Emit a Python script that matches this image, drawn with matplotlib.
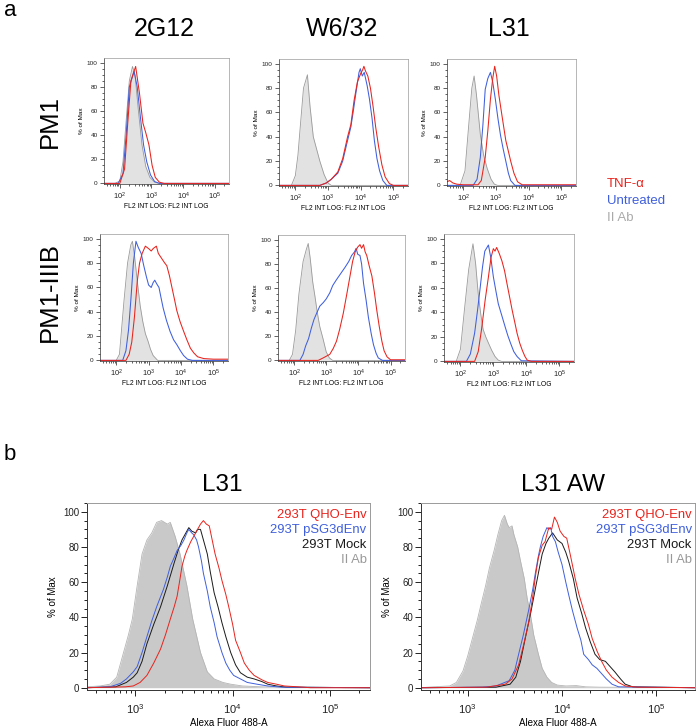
import numpy as np
import matplotlib
matplotlib.use('Agg')
import matplotlib.pyplot as plt
from matplotlib.ticker import LogLocator, MultipleLocator, NullFormatter

plt.rcParams['font.family'] = ['Liberation Sans', 'DejaVu Sans']
plt.rcParams['mathtext.fontset'] = 'custom'
plt.rcParams['mathtext.rm'] = 'Liberation Sans'
plt.rcParams['mathtext.it'] = 'Liberation Sans:italic'

# histogram points: (log10 intensity, % of max)

### panel a, PM1 row ###
pm1_2g12_ab = [(1.5, 0), (1.85, 0), (2.0, 2), (2.1, 18), (2.2, 52), (2.3, 85), (2.4, 97), (2.48, 90),
               (2.58, 62), (2.7, 32), (2.82, 14), (2.95, 5), (3.1, 1), (3.25, 0), (5.45, 0)]
pm1_2g12_unt = [(1.5, 0), (1.95, 0), (2.1, 8), (2.2, 40), (2.3, 80), (2.45, 93), (2.55, 80), (2.65, 55),
                (2.75, 32), (2.85, 18), (2.97, 7), (3.1, 1.5), (3.25, 0), (5.45, 0)]
pm1_2g12_tnf = [(1.5, 0), (2.0, 0), (2.15, 12), (2.25, 50), (2.35, 85), (2.5, 97), (2.62, 75), (2.73, 50),
                (2.82, 42), (2.92, 32), (3.02, 15), (3.12, 5), (3.25, 1), (3.4, 0), (5.45, 0)]

pm1_w632_ab = [(1.5, 0), (1.88, 0), (2.0, 8), (2.08, 25), (2.15, 48), (2.25, 80), (2.37, 91), (2.45, 65),
               (2.55, 40), (2.65, 30), (2.75, 20), (2.88, 9), (3.0, 2), (3.1, 0), (5.45, 0)]
pm1_w632_unt = [(1.5, 0), (2.75, 0), (2.95, 2), (3.1, 5), (3.3, 10), (3.45, 20), (3.6, 37), (3.7, 48),
                (3.78, 62), (3.86, 77), (3.95, 93), (3.99, 96), (4.05, 90), (4.11, 93), (4.2, 82),
                (4.27, 71), (4.35, 55), (4.42, 37), (4.5, 22), (4.58, 12), (4.68, 4), (4.8, 0), (5.45, 0)]
pm1_w632_tnf = [(1.5, 0), (2.75, 0), (2.95, 2), (3.1, 5), (3.3, 11), (3.45, 22), (3.6, 40), (3.7, 50),
                (3.8, 70), (3.9, 85), (4.0, 92), (4.06, 95), (4.1, 98), (4.15, 94), (4.22, 90), (4.3, 80),
                (4.38, 65), (4.46, 48), (4.55, 32), (4.65, 17), (4.75, 7), (4.88, 1.5), (5.0, 0), (5.45, 0)]

pm1_l31_ab = [(1.5, 0), (1.9, 0), (2.05, 12), (2.16, 48), (2.26, 80), (2.33, 90), (2.4, 75), (2.52, 42),
              (2.62, 25), (2.73, 14), (2.85, 5), (2.95, 1), (3.05, 0), (5.45, 0)]
pm1_l31_unt = [(1.5, 0), (2.3, 0), (2.42, 5), (2.52, 23), (2.6, 50), (2.67, 79), (2.75, 88), (2.83, 93),
               (2.9, 85), (2.98, 71), (3.06, 55), (3.14, 41), (3.22, 30), (3.3, 20), (3.38, 10),
               (3.45, 4), (3.58, 0), (5.45, 0)]
pm1_l31_tnf = [(1.5, 3), (1.58, 4), (1.68, 2), (1.8, 1), (2.0, 0.5), (2.45, 0.5), (2.55, 4), (2.67, 23),
               (2.75, 45), (2.83, 71), (2.9, 88), (2.96, 98), (3.02, 90), (3.09, 74), (3.18, 58),
               (3.3, 37), (3.38, 28), (3.45, 20), (3.55, 10), (3.66, 3), (3.8, 0.5), (5.45, 0.5)]

### panel a, PM1-IIIB row ###
iiib_2g12_ab = [(1.5, 0), (2.0, 0), (2.1, 5), (2.24, 49), (2.35, 80), (2.45, 95), (2.5, 98), (2.57, 85),
                (2.66, 63), (2.74, 45), (2.82, 32), (2.9, 22), (2.98, 16), (3.06, 9), (3.14, 4),
                (3.28, 0), (5.45, 0)]
iiib_2g12_unt = [(1.5, 0), (2.2, 0), (2.3, 8), (2.38, 25), (2.45, 49), (2.53, 80), (2.61, 98), (2.68, 93),
                 (2.77, 88), (2.85, 78), (2.93, 69), (3.0, 62), (3.08, 60), (3.14, 64), (3.19, 66),
                 (3.25, 63), (3.32, 60), (3.38, 52), (3.45, 43), (3.55, 33), (3.66, 24), (3.77, 17),
                 (3.87, 13), (3.98, 8), (4.08, 4), (4.2, 1), (4.35, 0), (5.45, 0)]
iiib_2g12_tnf = [(1.5, 0), (2.3, 0), (2.4, 5), (2.48, 15), (2.56, 35), (2.65, 65), (2.72, 80), (2.8, 88),
                 (2.9, 94), (3.0, 92), (3.08, 90), (3.14, 92), (3.24, 94), (3.3, 88), (3.4, 84),
                 (3.5, 80), (3.56, 78), (3.64, 70), (3.72, 60), (3.8, 50), (3.87, 41), (3.97, 32),
                 (4.08, 24), (4.18, 17), (4.29, 10), (4.4, 6), (4.51, 3), (4.7, 1.5), (5.0, 1), (5.45, 1)]

iiib_w632_ab = [(1.5, 0), (1.85, 0), (1.95, 5), (2.05, 25), (2.15, 55), (2.28, 82), (2.38, 92), (2.44, 97),
                (2.5, 85), (2.58, 65), (2.65, 53), (2.72, 40), (2.8, 28), (2.9, 18), (3.0, 7), (3.1, 2),
                (3.2, 0), (5.45, 0)]
iiib_w632_unt = [(1.5, 0), (2.18, 0), (2.28, 5), (2.36, 12), (2.45, 18), (2.54, 27), (2.62, 34), (2.7, 39),
                 (2.8, 45), (2.91, 48), (3.0, 51), (3.11, 56), (3.2, 62), (3.32, 67), (3.45, 72),
                 (3.58, 77), (3.7, 82), (3.79, 87), (3.88, 90), (3.93, 93), (3.98, 88), (4.05, 87),
                 (4.1, 80), (4.16, 64), (4.24, 50), (4.31, 36), (4.4, 22), (4.47, 13), (4.55, 6),
                 (4.62, 2), (4.75, 0), (5.45, 0)]
iiib_w632_tnf = [(1.5, 0), (2.75, 0), (2.9, 2), (3.11, 5), (3.22, 10), (3.32, 16), (3.42, 26), (3.53, 39),
                 (3.64, 55), (3.74, 70), (3.82, 82), (3.9, 90), (3.98, 94), (4.05, 96), (4.1, 93),
                 (4.16, 96), (4.21, 90), (4.26, 87), (4.34, 78), (4.42, 70), (4.5, 56), (4.57, 42),
                 (4.65, 28), (4.73, 16), (4.8, 8), (4.89, 3), (5.0, 0.5), (5.45, 0.5)]

iiib_l31_ab = [(1.5, 0), (1.87, 0), (2.0, 10), (2.12, 42), (2.25, 75), (2.38, 96), (2.46, 80), (2.54, 55),
               (2.62, 38), (2.69, 26), (2.77, 20), (2.85, 15), (2.95, 9), (3.05, 4), (3.15, 1),
               (3.25, 0), (5.45, 0)]
iiib_l31_unt = [(1.5, 0), (2.18, 0), (2.3, 6), (2.43, 23), (2.52, 42), (2.59, 58), (2.67, 77), (2.74, 90),
                (2.85, 95), (2.92, 85), (3.0, 69), (3.08, 57), (3.15, 47), (3.25, 38), (3.36, 28),
                (3.44, 21), (3.52, 15), (3.62, 8), (3.72, 4), (3.85, 0.5), (5.45, 0)]
iiib_l31_tnf = [(1.5, 0), (2.43, 0), (2.54, 8), (2.64, 26), (2.75, 50), (2.85, 69), (2.93, 85), (3.0, 92),
                (3.05, 90), (3.1, 93), (3.18, 88), (3.26, 82), (3.34, 74), (3.41, 64), (3.49, 53),
                (3.57, 42), (3.65, 32), (3.72, 23), (3.8, 15), (3.88, 9), (3.96, 4), (4.03, 1),
                (4.15, 0), (5.45, 0)]

### panel b ###
l31_ab = [(2.5, 0.5), (2.64, 1), (2.74, 2), (2.81, 6), (2.88, 20), (2.93, 30), (2.97, 39), (3.02, 58),
          (3.07, 76), (3.12, 84), (3.17, 88), (3.22, 94), (3.27, 95), (3.33, 93), (3.36, 94), (3.41, 86),
          (3.46, 76), (3.53, 58), (3.59, 39), (3.67, 20), (3.74, 9), (3.81, 5), (3.9, 3), (3.98, 2),
          (4.1, 1), (4.3, 0.5), (5.42, 0)]
l31_mock = [(2.5, 0), (2.8, 0.5), (2.91, 3), (2.98, 6), (3.02, 8.5), (3.07, 15), (3.12, 25), (3.19, 36),
            (3.26, 46), (3.33, 58), (3.4, 71), (3.44, 78), (3.48, 84), (3.52, 88), (3.55, 91), (3.58, 89),
            (3.62, 88), (3.64, 90), (3.67, 90), (3.7, 84), (3.74, 76), (3.77, 66), (3.81, 54), (3.85, 46),
            (3.89, 37), (3.93, 29), (3.98, 20), (4.03, 13), (4.08, 8.5), (4.15, 6), (4.22, 5), (4.3, 3.5),
            (4.36, 2), (4.45, 1), (4.55, 0.3), (5.42, 0)]
l31_psg = [(2.5, 0), (2.74, 0.5), (2.85, 2.5), (2.91, 5), (2.98, 9), (3.02, 12), (3.07, 20), (3.12, 29),
           (3.17, 38), (3.22, 46), (3.29, 56), (3.33, 63), (3.36, 69), (3.4, 74), (3.43, 78), (3.47, 81),
           (3.5, 84), (3.53, 88), (3.55, 90), (3.58, 88), (3.6, 87), (3.63, 84), (3.65, 80), (3.68, 72),
           (3.7, 65), (3.74, 55), (3.77, 46), (3.81, 37), (3.84, 29), (3.89, 20), (3.93, 14), (3.97, 10),
           (4.01, 7), (4.08, 5), (4.15, 3), (4.25, 2), (4.36, 1), (4.5, 0.3), (5.42, 0)]
l31_qho = [(2.5, 0), (2.9, 0.5), (2.98, 1), (3.05, 3), (3.12, 7), (3.19, 14), (3.26, 22), (3.31, 30),
           (3.36, 39), (3.4, 46), (3.43, 52), (3.46, 62), (3.48, 69), (3.51, 75), (3.53, 78), (3.57, 83),
           (3.6, 86), (3.63, 89), (3.67, 93), (3.7, 95), (3.73, 93), (3.76, 92), (3.79, 84), (3.82, 76),
           (3.86, 68), (3.89, 61), (3.93, 53), (3.96, 46), (4.0, 36), (4.03, 27), (4.08, 20), (4.12, 14),
           (4.17, 10), (4.22, 7), (4.3, 4.5), (4.36, 3), (4.45, 2), (4.53, 1), (4.67, 0.5), (4.8, 0),
           (5.42, 0)]

l31aw_ab = [(2.5, 0), (2.63, 0.5), (2.81, 1), (2.88, 3), (2.95, 9.5), (3.0, 18), (3.05, 28), (3.1, 38),
            (3.14, 47), (3.19, 58), (3.23, 68), (3.28, 78), (3.32, 87), (3.36, 95), (3.39, 98), (3.42, 93),
            (3.44, 91), (3.47, 92), (3.49, 87), (3.53, 80), (3.56, 72), (3.6, 62), (3.63, 51), (3.67, 40),
            (3.7, 30), (3.75, 19), (3.79, 11), (3.84, 6), (3.89, 3), (3.95, 1.5), (4.04, 1), (4.15, 1.2),
            (4.25, 0.5), (4.4, 0.3), (5.42, 0)]
l31aw_mock = [(2.5, 0), (3.3, 0.3), (3.45, 2), (3.51, 6), (3.56, 15), (3.61, 28), (3.67, 43), (3.72, 57),
              (3.76, 68), (3.79, 76), (3.83, 82), (3.86, 85), (3.9, 88), (3.95, 84), (4.0, 82), (4.04, 77),
              (4.07, 72), (4.12, 62), (4.16, 51), (4.21, 42), (4.25, 34), (4.3, 26), (4.35, 19), (4.4, 16),
              (4.46, 15), (4.51, 12), (4.56, 9), (4.62, 5), (4.67, 2), (4.75, 0.5), (5.42, 0)]
l31aw_psg = [(2.5, 0), (3.16, 0.3), (3.3, 1), (3.44, 4), (3.5, 10), (3.54, 19), (3.59, 30), (3.65, 45),
             (3.69, 56), (3.72, 66), (3.75, 75), (3.77, 80), (3.8, 86), (3.84, 91), (3.86, 90), (3.88, 91),
             (3.9, 86), (3.93, 83), (3.96, 77), (4.0, 70), (4.04, 60), (4.07, 53), (4.11, 44), (4.16, 34),
             (4.2, 27), (4.23, 19), (4.28, 16), (4.32, 13), (4.37, 11), (4.42, 8), (4.47, 5), (4.53, 2),
             (4.6, 0.5), (5.42, 0)]
l31aw_qho = [(2.5, 0), (3.2, 0.3), (3.4, 2), (3.47, 5), (3.54, 13), (3.6, 26), (3.65, 38), (3.69, 52),
             (3.72, 64), (3.75, 74), (3.79, 81), (3.82, 83), (3.86, 91), (3.89, 90), (3.92, 97), (3.95, 94),
             (3.98, 89), (4.02, 86), (4.05, 85), (4.09, 75), (4.14, 62), (4.18, 53), (4.23, 44), (4.28, 36),
             (4.32, 28), (4.37, 21), (4.42, 15), (4.47, 10), (4.53, 6), (4.6, 3), (4.67, 1), (4.8, 0.3),
             (5.42, 0)]

col_titles = ['2G12', 'W6/32', 'L31']
row_titles = ['PM1', 'PM1-IIIB']
a_legend = ['TNF-\u03b1', 'Untreated', 'II Ab']
b_titles = ['L31', 'L31 AW']
b_legend = ['293T QHO-Env', '293T pSG3dEnv', '293T Mock', 'II Ab']

RED = '#e8231c'
BLUE = '#3f5fdc'
BLACK = '#1a1a1a'

W, H = 700, 728
fig = plt.figure(figsize=(7, 7.28), dpi=100)


def px_axes(left, top, right, bottom):
    return fig.add_axes([left / W, 1 - bottom / H, (right - left) / W, (bottom - top) / H])


def curve(pts):
    arr = np.array(pts, dtype=float)
    return 10 ** arr[:, 0], arr[:, 1]


def style_axes(ax, xlim, ylim, fs, xfs, xpad, lw):
    ax.set_xscale('log')
    ax.set_xlim(10 ** xlim[0], 10 ** xlim[1])
    ax.set_ylim(*ylim)
    ax.yaxis.set_major_locator(MultipleLocator(20))
    ax.yaxis.set_minor_locator(MultipleLocator(5))
    ax.xaxis.set_major_locator(LogLocator(base=10, numticks=10))
    ax.xaxis.set_minor_locator(LogLocator(base=10, subs=np.arange(2, 10), numticks=20))
    ax.xaxis.set_minor_formatter(NullFormatter())
    ax.tick_params(which='both', direction='out', width=lw, colors='#222222', labelsize=fs, pad=1.5)
    ax.tick_params(axis='x', which='major', labelsize=xfs, pad=xpad)
    for s in ['left', 'bottom']:
        ax.spines[s].set_color('#333333')
        ax.spines[s].set_linewidth(lw)
    for s in ['top', 'right']:
        ax.spines[s].set_color('#9a9a9a')
        ax.spines[s].set_linewidth(lw)


# positions (px) of the six small histograms
a_boxes = [[(104, 58, 229, 184), (279, 59, 408, 186), (447, 59, 576, 186)],
           [(100, 234, 228, 361), (278, 235, 405, 361), (444, 234, 574, 362)]]
a_data = [[(pm1_2g12_ab, pm1_2g12_unt, pm1_2g12_tnf),
           (pm1_w632_ab, pm1_w632_unt, pm1_w632_tnf),
           (pm1_l31_ab, pm1_l31_unt, pm1_l31_tnf)],
          [(iiib_2g12_ab, iiib_2g12_unt, iiib_2g12_tnf),
           (iiib_w632_ab, iiib_w632_unt, iiib_w632_tnf),
           (iiib_l31_ab, iiib_l31_unt, iiib_l31_tnf)]]

for r in range(2):
    for c in range(3):
        ax = px_axes(*a_boxes[r][c])
        ab, unt, tnf = a_data[r][c]
        x, y = curve(ab)
        ax.fill_between(x, 0, y, color='#e2e2e2', lw=0)
        ax.plot(x, y, color='#9a9a9a', lw=0.6)
        x, y = curve(unt)
        ax.plot(x, y, color=BLUE, lw=0.75)
        x, y = curve(tnf)
        ax.plot(x, y, color=RED, lw=0.75)
        style_axes(ax, (1.5, 5.45), (-0.5, 104), 4.6, 5.4, 1.5, 0.5)
        ax.tick_params(which='major', length=3)
        ax.tick_params(which='minor', length=1.6)
        ax.set_ylabel('% of Max', fontsize=4.6, labelpad=2)
        ax.set_xlabel('FL2 INT LOG: FL2 INT LOG', fontsize=4.9, labelpad=1.2)

for c, t in enumerate(col_titles):
    fig.text([164, 342, 509][c] / W, 1 - 29 / H, t, fontsize=18, ha='center', va='center')
for r, t in enumerate(row_titles):
    fig.text(50 / W, 1 - [121, 292][r] / H, t, fontsize=18.5, rotation=90, ha='center', va='center')

for i, (t, col) in enumerate(zip(a_legend, [RED, BLUE, '#aaaaaa'])):
    fig.text(607 / W, 1 - (184 + 17 * i) / H, t, fontsize=9.5, color=col, ha='left', va='center')

fig.text(4 / W, 1 - 10 / H, 'a', fontsize=16, ha='left', va='center')
fig.text(4 / W, 1 - 455 / H, 'b', fontsize=16, ha='left', va='center')

# panel b
b_boxes = [(87, 503, 370, 690), (421, 503, 695, 690)]
b_data = [(l31_ab, l31_mock, l31_psg, l31_qho), (l31aw_ab, l31aw_mock, l31aw_psg, l31aw_qho)]
b_title_x = [222, 563]

for k in range(2):
    ax = px_axes(*b_boxes[k])
    ab, mock, psg, qho = b_data[k]
    x, y = curve(ab)
    ax.fill_between(x, 0, y, color='#c9c9c9', lw=0)
    ax.plot(x, y, color='#b5b5b5', lw=0.6)
    x, y = curve(mock)
    ax.plot(x, y, color=BLACK, lw=0.7)
    x, y = curve(psg)
    ax.plot(x, y, color=BLUE, lw=0.7)
    x, y = curve(qho)
    ax.plot(x, y, color=RED, lw=0.7)
    style_axes(ax, (2.505, 5.41), (-1.3, 105), 7, 8, 5, 0.7)
    ax.tick_params(which='major', length=4)
    ax.tick_params(which='minor', length=2.2)
    ax.set_ylabel('% of Max', fontsize=7, labelpad=4)
    ax.set_xlabel('Alexa Fluor 488-A', fontsize=7, labelpad=1.5)
    fig.text(b_title_x[k] / W, 1 - 485 / H, b_titles[k], fontsize=17.5, ha='center', va='center')
    for i, (t, col) in enumerate(zip(b_legend, [RED, BLUE, BLACK, '#999999'])):
        ax.text(0.988, 1 - (12 + 15 * i) / (690 - 503), t, transform=ax.transAxes, fontsize=9.4,
                color=col, ha='right', va='center')

fig.savefig('out.png', dpi=100)
